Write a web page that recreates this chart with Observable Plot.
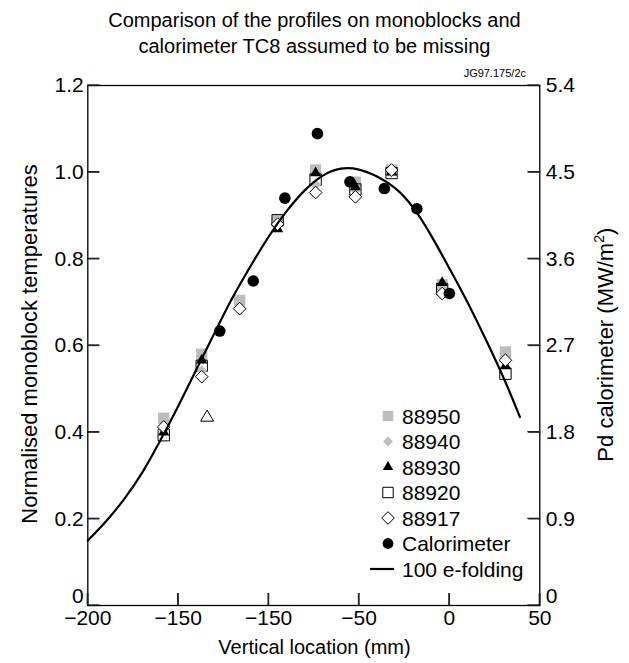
<!DOCTYPE html>
<html><head><meta charset="utf-8">
<script src="https://cdn.jsdelivr.net/npm/d3@7"></script>
<script src="https://cdn.jsdelivr.net/npm/@observablehq/plot@0.6"></script>
<style>
body{margin:0;background:#fff;font-family:"Liberation Sans",Arial,sans-serif;color:#000;}
#wrap{position:relative;width:629px;height:663px;overflow:hidden;}
#wrap > svg{position:absolute;left:0;top:0;}
.t{position:absolute;white-space:nowrap;}
.title{left:0;width:629px;text-align:center;font-size:20px;line-height:26px;}
</style></head><body>
<div id="wrap">
  <div class="t title" style="top:7px">Comparison of the profiles on monoblocks and<br>calorimeter TC8 assumed to be missing</div>
  <div class="t" style="right:103px;top:67px;font-size:11px;">JG97.175/2c</div>
  <div class="t" style="left:0;width:629px;text-align:center;top:636px;font-size:20px;">Vertical location (mm)</div>
  <div class="t" style="left:-170px;width:400px;text-align:center;top:331px;font-size:22px;transform:rotate(-90deg);">Normalised monoblock temperatures</div>
  <div class="t" style="left:405px;width:400px;text-align:center;top:331px;font-size:22px;transform:rotate(-90deg);">Pd calorimeter (MW/m<sup style="font-size:14px">2</sup>)</div>
</div>
<script>
// ---- axis ticks ----
const xTicks = [-200, -150, -100, -50, 0, 50];
const xTickLabels = ["\u2212200", "\u2212150", "\u2212150", "\u221250", "0", "50"];
const yTicks = [0, 0.2, 0.4, 0.6, 0.8, 1.0, 1.2];
const yTickLabels = ["0", "0.2", "0.4", "0.6", "0.8", "1.0", "1.2"];
const y2TickLabels = ["0", "0.9", "1.8", "2.7", "3.6", "4.5", "5.4"];
const pdPerUnit = 4.5; // right axis (MW/m2) per unit of left axis

// ---- monoblock data (normalised) ----
const positions = [-158, -137, -116, -95, -74, -52, -32, -4, 31];
const t88950 = [0.432, 0.580, 0.704, 0.888, 1.005, 0.977, 1.005, 0.740, 0.585];
const t88940 = [0.405, 0.542, null, 0.884, 0.971, 0.958, 1.000, 0.732, 0.563];
const t88930 = [0.400, 0.566, null, 0.869, 0.998, 0.966, 1.000, 0.745, 0.553];
const t88920 = [0.393, 0.553, null, 0.889, 0.983, 0.960, 0.998, 0.730, 0.535];
const t88917 = [0.412, 0.528, 0.685, 0.880, 0.953, 0.943, 1.005, 0.720, 0.566];
const outlierX = [-134];
const outlierY = [0.434];

// ---- calorimeter (MW/m2) ----
const calX = [-127, -108.5, -91, -73, -55, -36, -18, 0];
const calPd = [2.85, 3.37, 4.23, 4.90, 4.40, 4.33, 4.12, 3.24];

// ---- 100 e-folding curve ----
const efoldX = [-200, -190, -180, -170, -160, -150, -140, -130, -120, -110, -100, -90, -80, -70, -60, -50, -40, -30, -20, -10, 0, 10, 20, 30, 39];
const efoldY = [0.150, 0.194, 0.245, 0.306, 0.380, 0.460, 0.544, 0.628, 0.710, 0.783, 0.851, 0.910, 0.958, 0.992, 1.008, 1.006, 0.990, 0.963, 0.918, 0.853, 0.778, 0.700, 0.615, 0.525, 0.435];

const legendNames = ["88950", "88940", "88930", "88920", "88917", "Calorimeter", "100 e-folding"];

const gray = "#bdbdbd";
const diamondSym = {draw(ctx, size){const r = Math.sqrt(size) * 0.62625; ctx.moveTo(0,-r); ctx.lineTo(r,0); ctx.lineTo(0,r); ctx.lineTo(-r,0); ctx.closePath();}};

function rows(vals){ return positions.map((x,i)=>({x, y: vals[i]})).filter(d=>d.y!=null); }
const calRows = calX.map((x,i)=>({x, y: calPd[i] / pdPerUnit}));
const curveRows = efoldX.map((x,i)=>({x, y: efoldY[i]}));
const outRows = outlierX.map((x,i)=>({x, y: outlierY[i]}));

const styles = {
  "88950": {symbol: "square", r: 6.4, fill: gray, stroke: "none"},
  "88940": {symbol: diamondSym, r: 4.9, fill: gray, stroke: "none"},
  "88930": {symbol: "triangle", r: 4.2, fill: "black", stroke: "none"},
  "88920": {symbol: "square", r: 6.4, fill: "none", stroke: "black", strokeWidth: 1},
  "88917": {symbol: diamondSym, r: 5.7, fill: "white", stroke: "black", strokeWidth: 1},
  "Calorimeter": {symbol: "circle", r: 5.8, fill: "black", stroke: "none"}
};

const W = 629, H = 663, mL = 87.3, mR = 89.7, mT = 85, mB = 58;
const tickLen = 12;
const xDomain = [-200, 50], yDomain = [0, 1.2];
const yTicksNoZero = yTicks.filter(d => d !== 0);

const plot = Plot.plot({
  width: W, height: H,
  marginLeft: mL, marginRight: mR, marginTop: mT, marginBottom: mB,
  style: {fontFamily: "'Liberation Sans', Arial, sans-serif", fontSize: "21px", background: "transparent", color: "black"},
  x: {domain: xDomain},
  y: {domain: yDomain},
  marks: [
    // inward tick marks (Plot axes, ticks only, shifted inside the frame)
    Plot.axisX({ticks: xTicks, tickFormat: () => "", tickSize: tickLen, dy: -tickLen, label: null, stroke: "#222", strokeWidth: 1.3}),
    Plot.axisY({anchor: "left", ticks: yTicks, tickFormat: () => "", tickSize: tickLen, dx: tickLen, label: null, stroke: "#222", strokeWidth: 1.3}),
    Plot.axisY({anchor: "right", ticks: yTicks, tickFormat: () => "", tickSize: tickLen, dx: -tickLen, label: null, stroke: "#222", strokeWidth: 1.3}),
    // tick labels
    Plot.axisX({ticks: xTicks, tickFormat: d => xTickLabels[xTicks.indexOf(d)], tickSize: 0, tickPadding: 5, label: null}),
    Plot.axisY({anchor: "left", ticks: yTicksNoZero, tickFormat: d => yTickLabels[yTicks.indexOf(d)], tickSize: 0, tickPadding: 4, label: null}),
    Plot.axisY({anchor: "left", ticks: [0], tickFormat: d => yTickLabels[yTicks.indexOf(d)], tickSize: 0, tickPadding: 4, dy: -9, label: null}),
    Plot.axisY({anchor: "right", ticks: yTicksNoZero, tickFormat: d => y2TickLabels[yTicks.indexOf(d)], tickSize: 0, tickPadding: 6, label: null}),
    Plot.axisY({anchor: "right", ticks: [0], tickFormat: d => y2TickLabels[yTicks.indexOf(d)], tickSize: 0, tickPadding: 6, dy: -9, label: null}),
    // data
    Plot.dot(rows(t88950), {x: "x", y: "y", ...styles["88950"]}),
    Plot.dot(rows(t88920), {x: "x", y: "y", ...styles["88920"]}),
    Plot.dot(rows(t88940), {x: "x", y: "y", ...styles["88940"]}),
    Plot.dot(rows(t88930), {x: "x", y: "y", ...styles["88930"]}),
    Plot.dot(rows(t88917), {x: "x", y: "y", ...styles["88917"]}),
    Plot.dot(outRows, {x: "x", y: "y", symbol: "triangle", r: 4.8, fill: "white", stroke: "black", strokeWidth: 1}),
    Plot.line(curveRows, {x: "x", y: "y", curve: "natural", stroke: "black", strokeWidth: 2.2}),
    Plot.dot(calRows, {x: "x", y: "y", ...styles["Calorimeter"]}),
    Plot.frame({stroke: "black", strokeWidth: 1.3})
  ]
});
const wrap = document.getElementById("wrap");
wrap.insertBefore(plot, wrap.firstChild);

// ---- legend (overlay) ----
const leg = d3.select(wrap).append("svg").attr("width", W).attr("height", H).style("pointer-events", "none");
const rowY0 = 416, rowDy = 25.5, symX = 388, txtX = 402;
legendNames.forEach((name, i) => {
  const y = rowY0 + i * rowDy;
  const st = styles[name];
  if (st) {
    const sym = typeof st.symbol === "string" ? ({square: d3.symbolSquare, triangle: d3.symbolTriangle, circle: d3.symbolCircle})[st.symbol] : st.symbol;
    const r = name === "88917" ? 5.7 : name === "Calorimeter" ? 5.4 : st.r * 0.92;
    leg.append("path").attr("transform", `translate(${symX},${y})`)
      .attr("d", d3.symbol(sym, Math.PI * r * r)())
      .attr("fill", st.fill).attr("stroke", st.stroke).attr("stroke-width", st.strokeWidth || 0);
  } else {
    leg.append("line").attr("x1", 370).attr("x2", 394).attr("y1", y).attr("y2", y).attr("stroke", "black").attr("stroke-width", 2.2);
  }
  leg.append("text").attr("x", txtX).attr("y", y).attr("dy", "0.36em")
    .attr("font-family", "'Liberation Sans', Arial, sans-serif").attr("font-size", 21).text(name);
});

// ---- inward ticks repeated on the top layer, positioned with Plot's own scales ----
const sx = plot.scale("x"), sy = plot.scale("y");
const tg = leg.append("g").attr("stroke", "#222").attr("stroke-width", 1.3);
xTicks.forEach(v => {
  const px = sx.apply(v), py = sy.apply(yDomain[0]);
  tg.append("line").attr("x1", px).attr("x2", px).attr("y1", py).attr("y2", py - tickLen);
});
yTicks.forEach(v => {
  const py = sy.apply(v), pl = sx.apply(xDomain[0]), pr = sx.apply(xDomain[1]);
  tg.append("line").attr("x1", pl).attr("x2", pl + tickLen).attr("y1", py).attr("y2", py);
  tg.append("line").attr("x1", pr).attr("x2", pr - tickLen).attr("y1", py).attr("y2", py);
});
</script>
</body></html>
